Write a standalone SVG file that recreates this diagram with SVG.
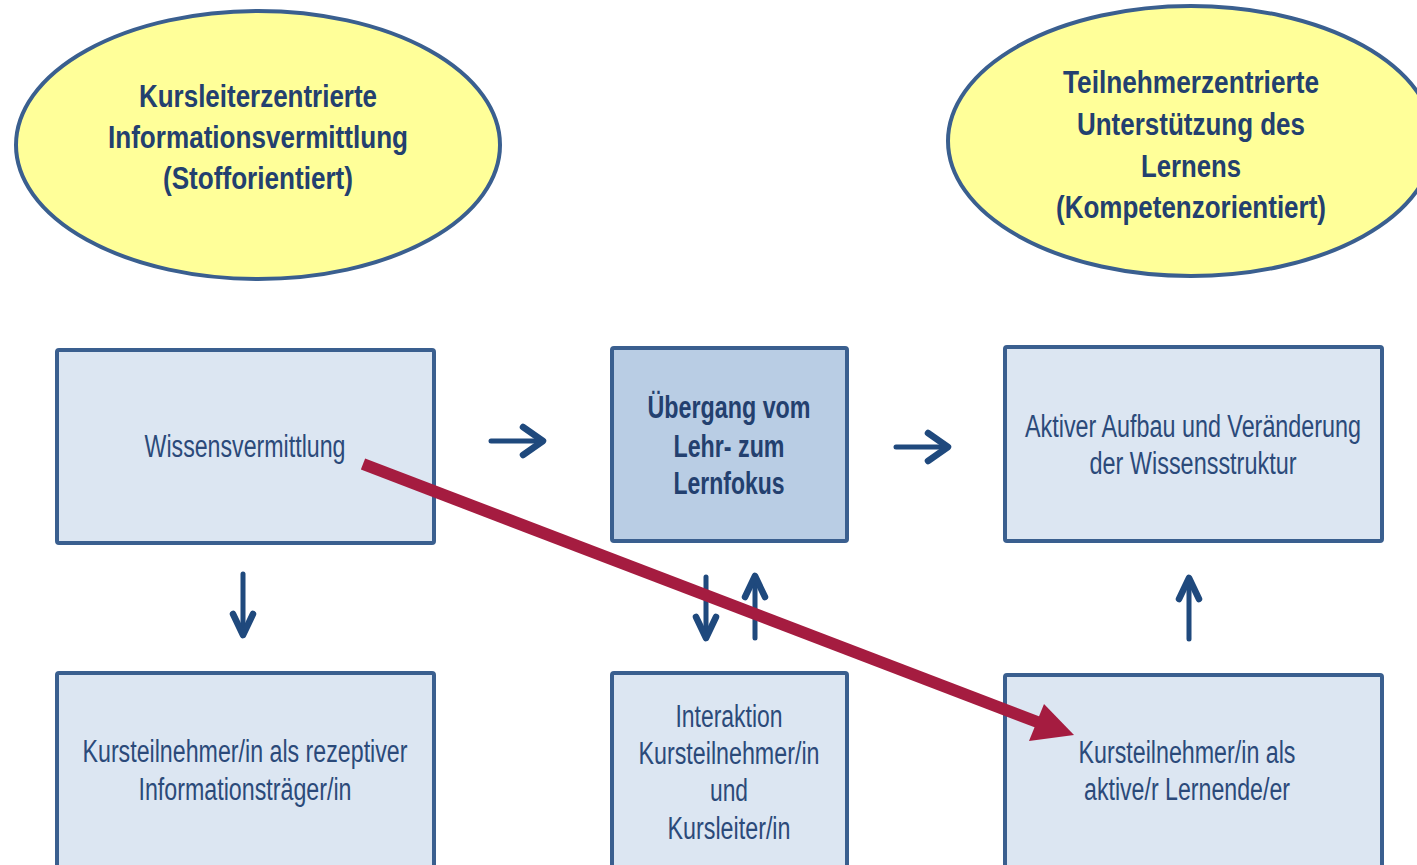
<svg xmlns="http://www.w3.org/2000/svg" width="1417" height="865" viewBox="0 0 1417 865">
<style>
.ell{fill:#ffff99;stroke:#3a5f8f;stroke-width:4}
.box{fill:#dce6f2;stroke:#3a5f8f;stroke-width:4}
.boxd{fill:#b9cde4;stroke:#3a5f8f;stroke-width:4}
.t{font-family:"Liberation Sans",Arial,sans-serif;text-anchor:middle;fill:#2b4a7a;font-size:31px}
.tb{font-family:"Liberation Sans",Arial,sans-serif;text-anchor:middle;fill:#23406f;font-size:32px;font-weight:bold}
.ba{fill:none;stroke:#1f497d;stroke-width:5;stroke-linecap:round;stroke-linejoin:round}
.bh{fill:none;stroke:#1f497d;stroke-width:6.5;stroke-linecap:round;stroke-linejoin:round}
</style>
<rect width="1417" height="865" fill="#ffffff"/>
<g id="ellipse-left">
<ellipse class="ell" cx="258" cy="145" rx="242" ry="134"/>
<text class="tb" x="258" y="107" textLength="238" lengthAdjust="spacingAndGlyphs">Kursleiterzentrierte</text>
<text class="tb" x="258" y="148" textLength="300" lengthAdjust="spacingAndGlyphs">Informationsvermittlung</text>
<text class="tb" x="258" y="189" textLength="190" lengthAdjust="spacingAndGlyphs">(Stofforientiert)</text>
</g>
<g id="ellipse-right">
<ellipse class="ell" cx="1191" cy="141" rx="243" ry="135"/>
<text class="tb" x="1191" y="93" textLength="256" lengthAdjust="spacingAndGlyphs">Teilnehmerzentrierte</text>
<text class="tb" x="1191" y="135" textLength="228" lengthAdjust="spacingAndGlyphs">Unterstützung des</text>
<text class="tb" x="1191" y="177" textLength="100" lengthAdjust="spacingAndGlyphs">Lernens</text>
<text class="tb" x="1191" y="218" textLength="270" lengthAdjust="spacingAndGlyphs">(Kompetenzorientiert)</text>
</g>
<g id="box-wissensvermittlung">
<rect class="box" x="57" y="350" width="377" height="193" rx="2"/>
<text class="t" x="245" y="457" textLength="201" lengthAdjust="spacingAndGlyphs">Wissensvermittlung</text>
</g>
<g id="box-uebergang">
<rect class="boxd" x="612" y="348" width="235" height="193" rx="2"/>
<text class="tb" x="729" y="418" font-size="29" textLength="163" lengthAdjust="spacingAndGlyphs">Übergang vom</text>
<text class="tb" x="729" y="457" font-size="29" textLength="111" lengthAdjust="spacingAndGlyphs">Lehr- zum</text>
<text class="tb" x="729" y="494" font-size="29" textLength="111" lengthAdjust="spacingAndGlyphs">Lernfokus</text>
</g>
<g id="box-aufbau">
<rect class="box" x="1005" y="347" width="377" height="194" rx="2"/>
<text class="t" x="1193" y="437" font-size="30" textLength="336" lengthAdjust="spacingAndGlyphs">Aktiver Aufbau und Veränderung</text>
<text class="t" x="1193" y="474" textLength="207" lengthAdjust="spacingAndGlyphs">der Wissensstruktur</text>
</g>
<g id="box-rezeptiv">
<rect class="box" x="57" y="673" width="377" height="210" rx="2"/>
<text class="t" x="245" y="762" textLength="325" lengthAdjust="spacingAndGlyphs">Kursteilnehmer/in als rezeptiver</text>
<text class="t" x="245" y="800" textLength="213" lengthAdjust="spacingAndGlyphs">Informationsträger/in</text>
</g>
<g id="box-interaktion">
<rect class="box" x="612" y="673" width="235" height="210" rx="2"/>
<text class="t" x="729" y="727" textLength="107" lengthAdjust="spacingAndGlyphs">Interaktion</text>
<text class="t" x="729" y="764" textLength="181" lengthAdjust="spacingAndGlyphs">Kursteilnehmer/in</text>
<text class="t" x="729" y="801" textLength="38" lengthAdjust="spacingAndGlyphs">und</text>
<text class="t" x="729" y="839" textLength="123" lengthAdjust="spacingAndGlyphs">Kursleiter/in</text>
</g>
<g id="box-aktiv">
<rect class="box" x="1005" y="675" width="377" height="210" rx="2"/>
<text class="t" x="1187" y="763" textLength="217" lengthAdjust="spacingAndGlyphs">Kursteilnehmer/in als</text>
<text class="t" x="1187" y="800" textLength="206" lengthAdjust="spacingAndGlyphs">aktive/r Lernende/er</text>
</g>
<g id="connectors">
<path class="ba" d="M491 441 H543"/><path class="bh" d="M523 427 L543 441 L523 455"/>
<path class="ba" d="M896 447 H948"/><path class="bh" d="M928 433 L948 447 L928 461"/>
<path class="ba" d="M243 574 V635"/><path class="bh" d="M233 614 L243 635 L253 614"/>
<path class="ba" d="M706 577 V638"/><path class="bh" d="M696 617 L706 638 L716 617"/>
<path class="ba" d="M755 638 V576"/><path class="bh" d="M745 597 L755 576 L765 597"/>
<path class="ba" d="M1189 639 V578"/><path class="bh" d="M1179 599 L1189 578 L1199 599"/>
<line x1="363" y1="464" x2="1040" y2="723" stroke="#a51c40" stroke-width="12"/>
<polygon points="1074,735 1029,741 1044,704" fill="#a51c40"/>
</g>
</svg>
